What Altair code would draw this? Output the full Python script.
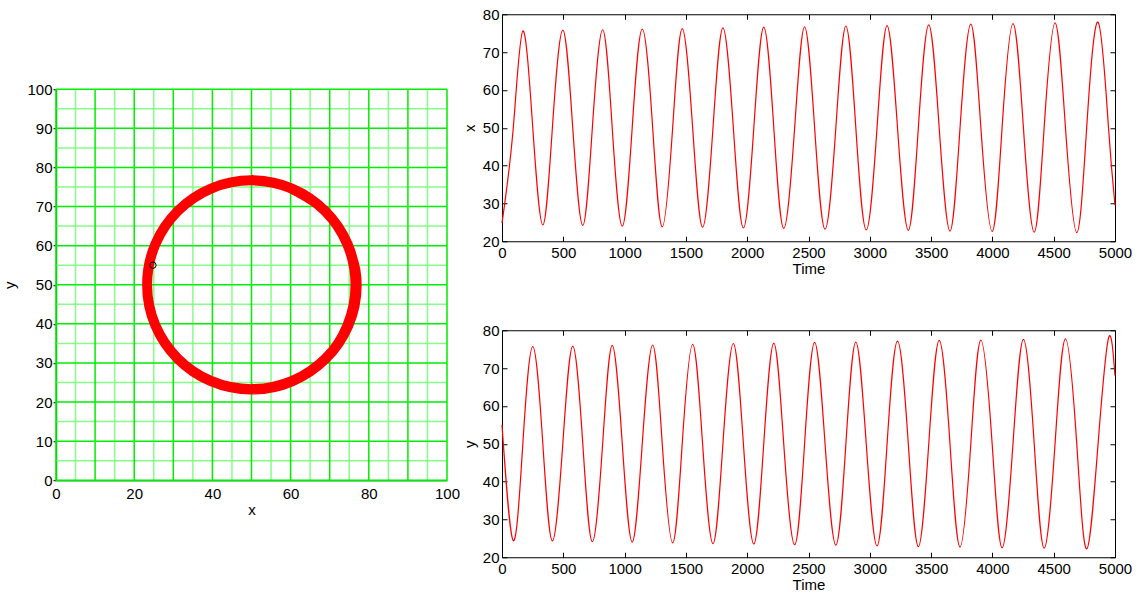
import altair as alt
import pandas as pd

# Tick positions and grid spacing
TIME_TICKS = list(range(0, 5001, 500))
LEVEL_TICKS = [20, 30, 40, 50, 60, 70, 80]
PHASE_X_TICKS = list(range(0, 101, 20))
PHASE_Y_TICKS = list(range(0, 101, 10))
GRID_MAJOR = list(range(0, 101, 10))
GRID_MINOR = list(range(5, 100, 10))

# Level crossed by one coordinate while the other sits at an extreme
MID = 50.0

# Start and end of the trajectory
START_X, START_Y = 24.8, 55.0
END_T, END_X, END_Y = 5000, 29.5, 68.0

# x(t): peaks and troughs
x_peak_t = [170, 496, 821, 1144, 1470, 1802, 2135, 2468, 2805, 3141, 3481, 3824, 4168, 4511, 4862]
x_peak_v = [75.6, 75.8, 75.9, 76.1, 76.2, 76.4, 76.6, 76.7, 76.9, 77.0, 77.2, 77.4, 77.5, 77.7, 77.9]
x_trough_t = [333, 659, 981, 1307, 1636, 1969, 2298, 2635, 2971, 3314, 3654, 3998, 4341, 4688]
x_trough_v = [24.3, 24.2, 24.0, 23.8, 23.7, 23.5, 23.4, 23.2, 23.0, 22.9, 22.7, 22.6, 22.4, 22.3]

# y(t): peaks and troughs
y_peak_t = [251, 577, 899, 1229, 1555, 1887, 2217, 2550, 2886, 3226, 3566, 3906, 4253, 4596, 4947]
y_peak_v = [75.7, 75.8, 76.0, 76.1, 76.3, 76.5, 76.6, 76.8, 76.9, 77.1, 77.3, 77.4, 77.6, 77.7, 77.9]
y_trough_t = [92, 411, 737, 1062, 1392, 1721, 2054, 2387, 2723, 3059, 3396, 3736, 4079, 4422, 4769]
y_trough_v = [24.4, 24.3, 24.1, 24.0, 23.8, 23.6, 23.5, 23.3, 23.2, 23.0, 22.8, 22.7, 22.5, 22.4, 22.2]

# Merge the extremes of both coordinates into one time-ordered table
rows = [(0, START_X, START_Y)]
rows += [(t, v, MID) for t, v in zip(x_peak_t, x_peak_v)]
rows += [(t, v, MID) for t, v in zip(x_trough_t, x_trough_v)]
rows += [(t, MID, v) for t, v in zip(y_peak_t, y_peak_v)]
rows += [(t, MID, v) for t, v in zip(y_trough_t, y_trough_v)]
rows.append((END_T, END_X, END_Y))
traj = pd.DataFrame(rows, columns=["t", "x", "y"]).sort_values("t").reset_index(drop=True)
start = traj.iloc[[0]]

FONT = "Liberation Sans"
RED = "#ff0000"

# ---------- phase plane ----------
psx = alt.Scale(domain=[0, 100], nice=False, zero=False)
psy = alt.Scale(domain=[0, 100], nice=False, zero=False)
ax_px = alt.Axis(values=PHASE_X_TICKS, title="x", ticks=False, grid=False, format="d",
                 domainColor="#00a800", domainWidth=1.5,
                 labelPadding=6, titlePadding=1, labelFlush=False)
ax_py = alt.Axis(values=PHASE_Y_TICKS, title="y", tickSize=3, grid=False, format="d",
                 domainColor="#00a800", domainWidth=1.5,
                 labelPadding=1, titlePadding=9, labelFlush=False)

grid = pd.DataFrame({"g": GRID_MINOR})
grid_major = pd.DataFrame({"g": GRID_MAJOR})
grid_minor_v = alt.Chart(grid).mark_rule(color="#86ff86", strokeWidth=1.5).encode(
    x=alt.X("g:Q", scale=psx, axis=ax_px))
grid_minor_h = alt.Chart(grid).mark_rule(color="#86ff86", strokeWidth=1.5).encode(
    y=alt.Y("g:Q", scale=psy, axis=ax_py))
grid_major_v = alt.Chart(grid_major).mark_rule(color="#00ee00", strokeWidth=1.5).encode(
    x=alt.X("g:Q", scale=psx, axis=ax_px))
grid_major_h = alt.Chart(grid_major).mark_rule(color="#00ee00", strokeWidth=1.5).encode(
    y=alt.Y("g:Q", scale=psy, axis=ax_py))

# Spiral in the (x, y) plane; the open cardinal curve uses the outer rows as tangents
orbit = alt.Chart(traj).mark_line(
    color=RED, strokeWidth=2.2, interpolate="cardinal-open", tension=-0.65).encode(
    x=alt.X("x:Q", scale=psx, axis=ax_px),
    y=alt.Y("y:Q", scale=psy, axis=ax_py),
    order="t:Q")

start_marker = alt.Chart(start).mark_point(
    shape="circle", filled=False, color="black", size=40, strokeWidth=1, opacity=1).encode(
    x=alt.X("x:Q", scale=psx, axis=ax_px),
    y=alt.Y("y:Q", scale=psy, axis=ax_py))

phase = alt.layer(grid_minor_v, grid_minor_h, grid_major_v, grid_major_h,
                  orbit, start_marker).properties(
    width=391, height=391, view=alt.ViewBackground(stroke="transparent"))


# ---------- time series ----------
def series_panel(field, title):
    sx = alt.Scale(domain=[0, 5000], nice=False, zero=False)
    sy = alt.Scale(domain=[20, 80], nice=False, zero=False)
    line = alt.Chart(traj).mark_line(
        color=RED, strokeWidth=1.2, interpolate="natural").encode(
        x=alt.X("t:Q", scale=sx,
                axis=alt.Axis(orient="bottom", values=TIME_TICKS, title="Time", format="d",
                              offset=-5, tickSize=5, domain=False, grid=False,
                              labelPadding=4, titlePadding=1, labelFlush=False)),
        y=alt.Y(f"{field}:Q", scale=sy,
                axis=alt.Axis(orient="left", values=LEVEL_TICKS, title=title, format="d",
                              offset=-5, tickSize=5, domain=False, grid=False,
                              labelPadding=3, titlePadding=5, labelFlush=False)),
        order="t:Q")
    mirror = alt.Chart(traj).mark_line(opacity=0).encode(
        x=alt.X("t:Q", scale=sx,
                axis=alt.Axis(orient="top", values=TIME_TICKS, title="", labels=False,
                              offset=-5, tickSize=5, domain=False, grid=False)),
        y=alt.Y(f"{field}:Q", scale=sy,
                axis=alt.Axis(orient="right", values=LEVEL_TICKS, title="", labels=False,
                              offset=-5, tickSize=5, domain=False, grid=False)),
        order="t:Q")
    return alt.layer(line, mirror).resolve_axis(x="independent", y="independent").properties(
        width=613, height=227)


right = alt.vconcat(series_panel("x", "x"), series_panel("y", "y"),
                    spacing=89, bounds="flush")

chart = alt.hconcat(phase, right, spacing=0, center=True).properties(
    padding={"left": 2, "top": 6, "right": 5, "bottom": 2}
).configure(
    background="white"
).configure_view(
    stroke="black", strokeWidth=1
).configure_axis(
    labelFont=FONT, labelFontSize=15, labelColor="black",
    titleFont=FONT, titleFontSize=15, titleFontWeight="normal", titleColor="black",
    tickColor="black", tickWidth=1, labelOverlap=False
)

chart.save("out.html", embed_options={"renderer": "svg", "actions": False})
